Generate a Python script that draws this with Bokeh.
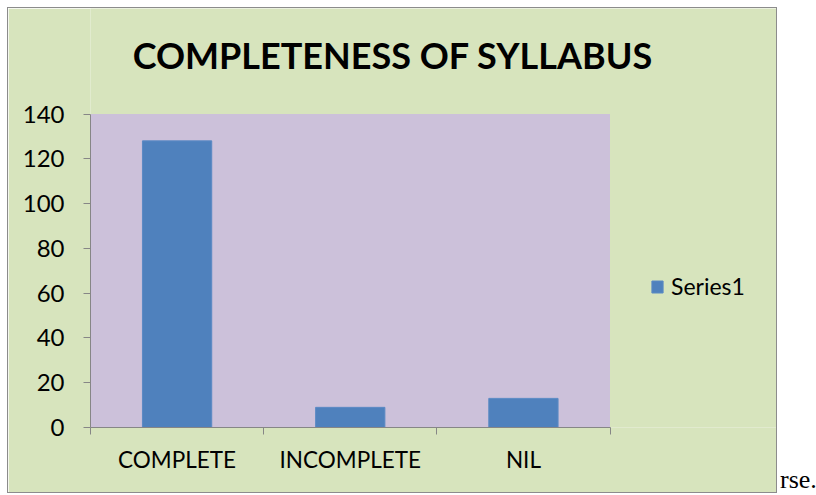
from bokeh.plotting import figure
from bokeh.models import (ColumnDataSource, Range1d, FixedTicker, Label, Legend,
                          LegendItem, Div, BoxAnnotation)
from bokeh.layouts import row
from bokeh.embed import file_html
from bokeh.resources import INLINE

categories = ["COMPLETE", "INCOMPLETE", "NIL"]
values = [128, 9, 13]
y_ticks = [0, 20, 40, 60, 80, 100, 120, 140]
series_name = "Series1"
title_text = "COMPLETENESS OF SYLLABUS"
trailing_text = "rse."

FONT = "Lato"
n = len(categories)
y_max = y_ticks[-1]
xpos = [i + 0.5 for i in range(n)]
bounds = list(range(n + 1))
src = ColumnDataSource(dict(x=xpos, top=values, cat=categories))

# canvas 768 x 484; plot box (lilac) spans 518 x 312 px starting at (82, 105)
W, H = 768, 484
FL, FB = 82, 67             # left / bottom panels
box_w, box_h = 518, 312
frame_w, frame_h = W - FL, H - FB
x_end = n * frame_w / box_w
y_end = y_max * frame_h / box_h

p = figure(width=W, height=H, output_backend="svg", toolbar_location=None,
           x_range=Range1d(0, x_end), y_range=Range1d(0, y_end),
           min_border_left=FL, min_border_right=0, min_border_top=0,
           min_border_bottom=FB,
           background_fill_color="#D7E4BD", border_fill_color="#D7E4BD",
           outline_line_color=None)
p.margin = (7, 0, 0, 7)
p.styles = {"border": "1px solid #8c8c8c", "box-sizing": "content-box"}
p.xgrid.grid_line_color = None
p.ygrid.grid_line_color = None

p.add_layout(BoxAnnotation(left=0, right=n, bottom=0, top=y_max,
                           fill_color="#CCC1DA", fill_alpha=1,
                           line_color=None, level="underlay"))

r = p.vbar(x="x", top="top", bottom=0, width=0.4, source=src,
           fill_color="#4F81BD", line_color="#5B8AC4", line_width=1)

# x axis: labels at centres, ticks at category boundaries
xa = p.xaxis[0]
xa.bounds = (0, n)
xa.ticker = FixedTicker(ticks=xpos, minor_ticks=bounds)
xa.major_label_overrides = {x: c for x, c in zip(xpos, categories)}
xa.major_tick_line_color = None
xa.major_tick_out = 0
xa.major_tick_in = 0
xa.minor_tick_out = 7
xa.minor_tick_in = 0
xa.minor_tick_line_color = "#868686"
xa.axis_line_color = "#868686"
xa.major_label_standoff = 11
xa.major_label_text_font = FONT
xa.major_label_text_font_size = "22.5px"
xa.major_label_text_color = "black"

ya = p.yaxis[0]
ya.bounds = (0, y_max)
ya.ticker = FixedTicker(ticks=y_ticks, minor_ticks=[])
ya.major_tick_out = 7
ya.major_tick_in = 0
ya.major_tick_line_color = "#868686"
ya.axis_line_color = "#868686"
ya.major_label_standoff = 19
ya.major_label_text_font = FONT
ya.major_label_text_font_size = "24px"
ya.major_label_text_color = "black"

title = Label(x=1.746, y=166.5, text=title_text, text_align="center",
              text_baseline="alphabetic", text_font=FONT,
              text_font_style="bold", text_font_size="36px",
              text_color="black")
p.add_layout(title)

legend = Legend(items=[LegendItem(label=series_name, renderers=[r])],
                location=(560, 127), padding=0, margin=0,
                border_line_color=None, background_fill_alpha=0,
                glyph_width=14, glyph_height=15, label_standoff=7,
                label_text_font=FONT, label_text_font_size="23px",
                label_text_color="black")
p.add_layout(legend, "center")

div = Div(text='<span style="position:relative; left:-2px; top:2px">' + trailing_text + '</span>',
          width=38, height=20, align="end",
          styles={"font-family": "Liberation Serif", "font-size": "26px",
                  "line-height": "20px", "color": "black",
                  "white-space": "nowrap", "overflow": "visible"})

layout = row(p, div)
open("out.html", "w").write(file_html(layout, INLINE))
